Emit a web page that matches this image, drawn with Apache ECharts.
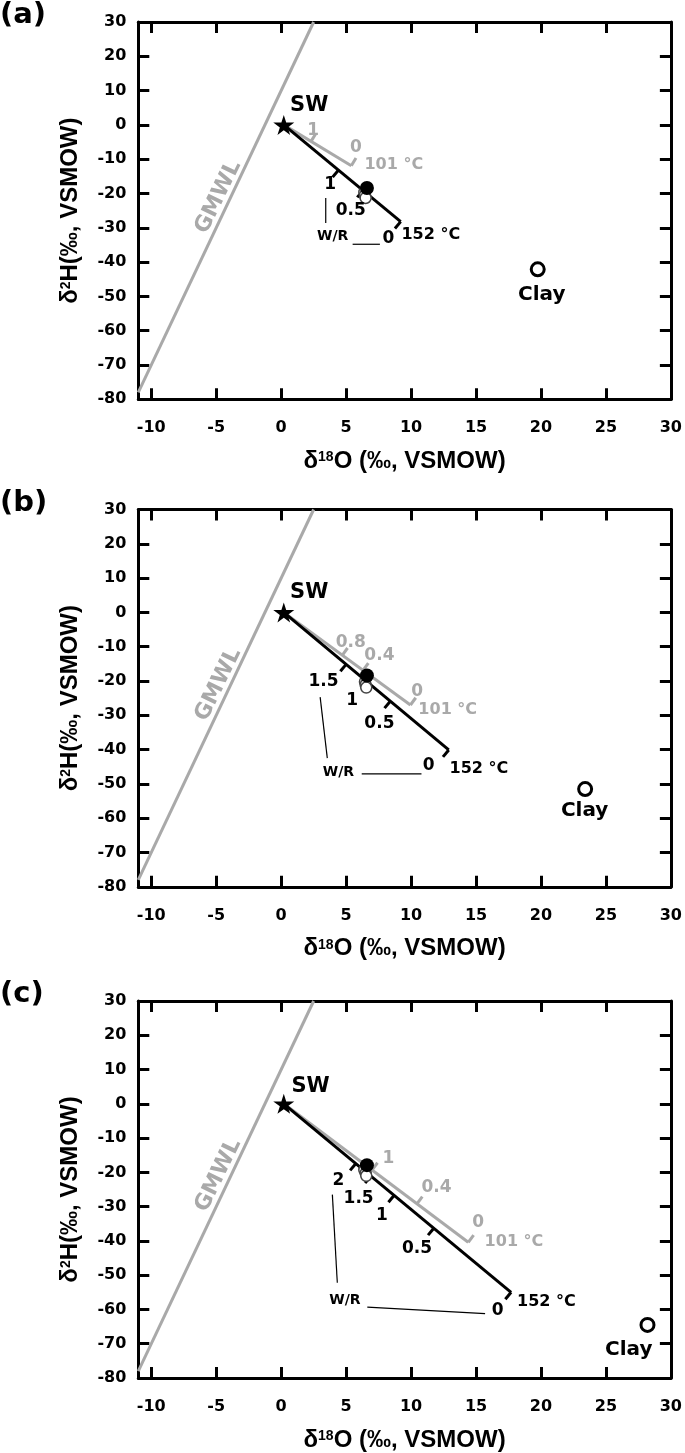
<!DOCTYPE html>
<html>
<head>
<meta charset="utf-8">
<script src="https://cdn.jsdelivr.net/npm/echarts@6/dist/echarts.min.js"></script>
<style>html,body{margin:0;padding:0;background:#fff}#c{width:685px;height:1453px}</style>
</head>
<body>
<div id="c"></div>
<script>
// ---- shared ----
const X_TICKS = [-10, -5, 0, 5, 10, 15, 20, 25, 30];
const GMWL = [[-11, -78], [2.5, 30]];
const SW = [[0.2, 0]];
const PANEL_TITLES = ['(a)', '(b)', '(c)'];

// ---- panel (a) ----
const A_BLACK_LINE = [[0.2, 0], [9.2, -28.2]];
const A_GRAY_LINE = [[0.2, 0], [5.4, -11.9]];
const A_BLACK_TICKS = [[4.4, -13.2], [6.3, -19.1], [9.2, -28.2]];
const A_GRAY_TICKS = [[2.3, -4.8], [5.4, -11.9]];
const A_OPEN = [[6.4, -19.6], [6.45, -20.5], [6.5, -21.3]];
const A_FILLED = [[6.6, -18.4]];
const A_CLAY = [[19.75, -42.1]];
const A_BLACK_LABELS = [[3.8, -17.5, '1'], [5.4, -25.2, '0.5'], [8.3, -33.2, '0']];
const A_GRAY_LABELS = [[2.5, -1.7, '1'], [5.8, -6.8, '0']];
const A_BLACK_TEMP = [9.3, -32.3, '152 °C'];
const A_GRAY_TEMP = [6.45, -11.9, '101 °C'];
const A_WR = [4.0, -32.6, 'W/R'];
const A_WR_LINKS = [[3.43, -21.3, 3.43, -28.6], [5.5, -34.8, 7.6, -34.8]];
const A_SW_LABEL = [2.2, 5.5, 'SW'];
const A_CLAY_LABEL = [20.1, -49.6, 'Clay'];
const A_GMWL_LABEL = [-4.8, -21.2, 'GMWL'];

// ---- panel (b) ----
const B_BLACK_LINE = [[0.2, 0], [12.9, -40.1]];
const B_GRAY_LINE = [[0.2, 0], [9.95, -27.0]];
const B_BLACK_TICKS = [[5.0, -15.15], [6.6, -20.2], [8.4, -25.9], [12.9, -40.1]];
const B_GRAY_TICKS = [[4.7, -12.5], [6.3, -16.9], [9.95, -27.0]];
const B_OPEN = [[6.45, -20.2], [6.5, -21.1], [6.55, -21.9]];
const B_FILLED = [[6.6, -18.4]];
const B_CLAY = [[23.4, -51.5]];
const B_BLACK_LABELS = [[3.3, -20.4, '1.5'], [5.5, -25.8, '1'], [7.6, -32.6, '0.5'], [11.4, -44.7, '0']];
const B_GRAY_LABELS = [[5.4, -8.9, '0.8'], [7.6, -12.8, '0.4'], [10.5, -23.3, '0']];
const B_BLACK_TEMP = [13.0, -45.7, '152 °C'];
const B_GRAY_TEMP = [10.6, -28.7, '101 °C'];
const B_WR = [4.45, -46.7, 'W/R'];
const B_WR_LINKS = [[3.0, -24.7, 3.55, -42.5], [6.2, -47.1, 10.8, -47.1]];
const B_SW_LABEL = [2.2, 5.6, 'SW'];
const B_CLAY_LABEL = [23.4, -58.1, 'Clay'];
const B_GMWL_LABEL = [-4.8, -21.2, 'GMWL'];

// ---- panel (c) ----
const C_BLACK_LINE = [[0.2, 0], [17.7, -55.0]];
const C_GRAY_LINE = [[0.2, 0], [14.4, -40.4]];
const C_BLACK_TICKS = [[5.75, -17.4], [6.9, -21.1], [8.7, -26.7], [11.75, -36.3], [17.7, -55.0]];
const C_GRAY_TICKS = [[7.0, -19.3], [10.45, -29.2], [14.4, -40.4]];
const C_OPEN = [[6.4, -19.3], [6.5, -20.2], [6.55, -21.0]];
const C_FILLED = [[6.6, -17.9]];
const C_CLAY = [[28.2, -64.5]];
const C_BLACK_LABELS = [[4.45, -22.6, '2'], [6.0, -27.9, '1.5'], [7.8, -32.8, '1'], [10.5, -42.5, '0.5'], [16.7, -60.5, '0']];
const C_GRAY_LABELS = [[8.3, -16.0, '1'], [12.0, -24.7, '0.4'], [15.2, -34.7, '0']];
const C_BLACK_TEMP = [18.2, -58.0, '152 °C'];
const C_GRAY_TEMP = [15.7, -40.5, '101 °C'];
const C_WR = [4.95, -57.5, 'W/R'];
const C_WR_LINKS = [[3.94, -26.5, 4.32, -52.2], [6.63, -59.3, 15.7, -61.2]];
const C_SW_LABEL = [2.3, 5.0, 'SW'];
const C_CLAY_LABEL = [26.8, -72.0, 'Clay'];
const C_GMWL_LABEL = [-4.8, -21.0, 'GMWL'];

// ---------------- build ----------------
const BLACK = '#000000';
const GRAY = '#a9a9a9';
const FONT = 'DejaVu Sans';
const GRID_LEFT = 138.3, GRID_W = 535.7, GRID_H = 377.3;
const GRID_TOPS = [22, 509.5, 1001];

const panels = [
  {bl: A_BLACK_LINE, gl: A_GRAY_LINE, bt: A_BLACK_TICKS, gt: A_GRAY_TICKS, open: A_OPEN, filled: A_FILLED, clay: A_CLAY,
   blab: A_BLACK_LABELS, glab: A_GRAY_LABELS, btemp: A_BLACK_TEMP, gtemp: A_GRAY_TEMP, wr: A_WR, links: A_WR_LINKS,
   swl: A_SW_LABEL, clayl: A_CLAY_LABEL, gmwll: A_GMWL_LABEL},
  {bl: B_BLACK_LINE, gl: B_GRAY_LINE, bt: B_BLACK_TICKS, gt: B_GRAY_TICKS, open: B_OPEN, filled: B_FILLED, clay: B_CLAY,
   blab: B_BLACK_LABELS, glab: B_GRAY_LABELS, btemp: B_BLACK_TEMP, gtemp: B_GRAY_TEMP, wr: B_WR, links: B_WR_LINKS,
   swl: B_SW_LABEL, clayl: B_CLAY_LABEL, gmwll: B_GMWL_LABEL},
  {bl: C_BLACK_LINE, gl: C_GRAY_LINE, bt: C_BLACK_TICKS, gt: C_GRAY_TICKS, open: C_OPEN, filled: C_FILLED, clay: C_CLAY,
   blab: C_BLACK_LABELS, glab: C_GRAY_LABELS, btemp: C_BLACK_TEMP, gtemp: C_GRAY_TEMP, wr: C_WR, links: C_WR_LINKS,
   swl: C_SW_LABEL, clayl: C_CLAY_LABEL, gmwll: C_GMWL_LABEL}
];

const grids = [], xAxes = [], yAxes = [], series = [], titles = [];

const xName = '{d|δ}{s|18}{n|O (‰, VSMOW)}';
const yName = '{d|δ}{s|2}{n|H(‰, VSMOW)}';
const nameRich = {
  d: {fontFamily: 'Liberation Sans', fontWeight: 'bold', fontSize: 24, color: BLACK},
  s: {fontFamily: 'Liberation Sans', fontWeight: 'bold', fontSize: 14, color: BLACK, verticalAlign: 'top', padding: [1, 0, 0, 0]},
  n: {fontFamily: 'Liberation Sans', fontWeight: 'bold', fontSize: 24, color: BLACK}
};

function tickRenderer(line, sign, color, len) {
  return function (params, api) {
    const p = api.coord([api.value(0), api.value(1)]);
    const a = api.coord(line[0]);
    const b = api.coord(line[1]);
    let dx = b[0] - a[0], dy = b[1] - a[1];
    const L = Math.hypot(dx, dy); dx /= L; dy /= L;
    return {
      type: 'line',
      shape: {x1: p[0], y1: p[1], x2: p[0] - sign * dy * len, y2: p[1] + sign * dx * len},
      style: {stroke: color, lineWidth: 3, lineCap: 'butt'}
    };
  };
}

function linkRenderer(params, api) {
  const p1 = api.coord([api.value(0), api.value(1)]);
  const p2 = api.coord([api.value(2), api.value(3)]);
  return {type: 'line', shape: {x1: p1[0], y1: p1[1], x2: p2[0], y2: p2[1]}, style: {stroke: BLACK, lineWidth: 1.2}};
}

function labelItems(arr, color, size, align, rotate) {
  return arr.map(function (t) {
    return {
      value: [t[0], t[1]], name: t[2],
      label: {show: true, formatter: t[2], position: [0, 0], align: align || 'center', verticalAlign: 'middle',
        color: color, opacity: 1, textBorderWidth: 0, fontFamily: FONT, fontWeight: 'bold', fontSize: size, rotate: rotate || 0}
    };
  });
}

panels.forEach(function (P, i) {
  grids.push({left: GRID_LEFT, top: GRID_TOPS[i], width: GRID_W, height: GRID_H});
  titles.push({text: PANEL_TITLES[i], left: 0, top: GRID_TOPS[i] - 21, padding: 0,
    textStyle: {fontFamily: FONT, fontWeight: 'bold', fontSize: 29, color: BLACK}});

  const axisLine = {show: true, onZero: false, lineStyle: {color: BLACK, width: 3}};
  const tick = {show: true, inside: true, length: 11, lineStyle: {color: BLACK, width: 3}};
  xAxes.push({
    gridIndex: i, type: 'value', min: -11, max: 30, position: 'bottom',
    axisLine: axisLine, axisTick: Object.assign({customValues: X_TICKS}, tick),
    axisLabel: {customValues: X_TICKS, margin: 21, color: BLACK, fontFamily: FONT, fontWeight: 'bold', fontSize: 16},
    splitLine: {show: false},
    name: xName, nameLocation: 'middle', nameGap: 50, nameTextStyle: {rich: nameRich}
  });
  xAxes.push({
    gridIndex: i, type: 'value', min: -11, max: 30, position: 'top',
    axisLine: axisLine, axisTick: Object.assign({customValues: X_TICKS}, tick),
    axisLabel: {show: false}, splitLine: {show: false}
  });
  yAxes.push({
    gridIndex: i, type: 'value', min: -80, max: 30, interval: 10, position: 'left',
    axisLine: axisLine, axisTick: tick,
    axisLabel: {margin: 12, color: BLACK, fontFamily: FONT, fontWeight: 'bold', fontSize: 16},
    splitLine: {show: false},
    name: yName, nameLocation: 'middle', nameGap: 56, nameTextStyle: {rich: nameRich}
  });
  yAxes.push({
    gridIndex: i, type: 'value', min: -80, max: 30, interval: 10, position: 'right',
    axisLine: axisLine, axisTick: tick, axisLabel: {show: false}, splitLine: {show: false}
  });

  const xi = 2 * i, yi = 2 * i;
  const base = {xAxisIndex: xi, yAxisIndex: yi, silent: true, animation: false};

  series.push(Object.assign({type: 'line', data: GMWL, showSymbol: false, symbol: 'none', z: 2,
    lineStyle: {color: GRAY, width: 3}}, base));
  series.push(Object.assign({type: 'line', data: P.gl, symbol: 'none', z: 3,
    lineStyle: {color: GRAY, width: 3}}, base));
  series.push(Object.assign({type: 'line', data: P.bl, symbol: 'none', z: 4,
    lineStyle: {color: BLACK, width: 3}}, base));
  series.push(Object.assign({type: 'custom', data: P.gt, z: 3, renderItem: tickRenderer(P.gl, -1, GRAY, 9)}, base));
  series.push(Object.assign({type: 'custom', data: P.bt, z: 4, renderItem: tickRenderer(P.bl, 1, BLACK, 9)}, base));
  series.push(Object.assign({type: 'custom', data: P.links, z: 4, renderItem: linkRenderer,
    encode: {x: [0, 2], y: [1, 3]}}, base));
  series.push(Object.assign({type: 'scatter', data: P.open, symbol: 'circle', symbolSize: 11, z: 5,
    itemStyle: {color: '#ffffff', borderColor: '#444444', borderWidth: 1.5, opacity: 1}}, base));
  series.push(Object.assign({type: 'scatter', data: P.filled, symbol: 'circle', symbolSize: 14, z: 6,
    itemStyle: {color: BLACK, opacity: 1}}, base));
  series.push(Object.assign({type: 'scatter', data: P.clay, symbol: 'circle', symbolSize: 13, z: 5,
    itemStyle: {color: '#ffffff', borderColor: BLACK, borderWidth: 3, opacity: 1}}, base));
  series.push(Object.assign({type: 'scatter', data: SW, z: 7,
    symbol: 'path://M50,0 L61,35 L98,35 L68,57 L79,91 L50,70 L21,91 L32,57 L2,35 L39,35 Z',
    symbolSize: [21, 20], itemStyle: {color: BLACK, opacity: 1}}, base));

  const labels = []
    .concat(labelItems(P.blab, BLACK, 17))
    .concat(labelItems(P.glab, GRAY, 17))
    .concat(labelItems([P.btemp], BLACK, 16, 'left'))
    .concat(labelItems([P.gtemp], GRAY, 16, 'left'))
    .concat(labelItems([P.wr], BLACK, 14))
    .concat(labelItems([P.swl], BLACK, 21))
    .concat(labelItems([P.clayl], BLACK, 20))
    .concat(labelItems([P.gmwll], GRAY, 22, 'center', 64));
  series.push(Object.assign({type: 'scatter', data: labels, symbol: 'circle', symbolSize: 1, z: 8,
    itemStyle: {color: 'rgba(0,0,0,0)'}}, base));
});

const chart = echarts.init(document.getElementById('c'), null, {renderer: 'canvas'});
chart.setOption({
  backgroundColor: '#ffffff',
  animation: false,
  title: titles,
  grid: grids,
  xAxis: xAxes,
  yAxis: yAxes,
  series: series
});
</script>
</body>
</html>
